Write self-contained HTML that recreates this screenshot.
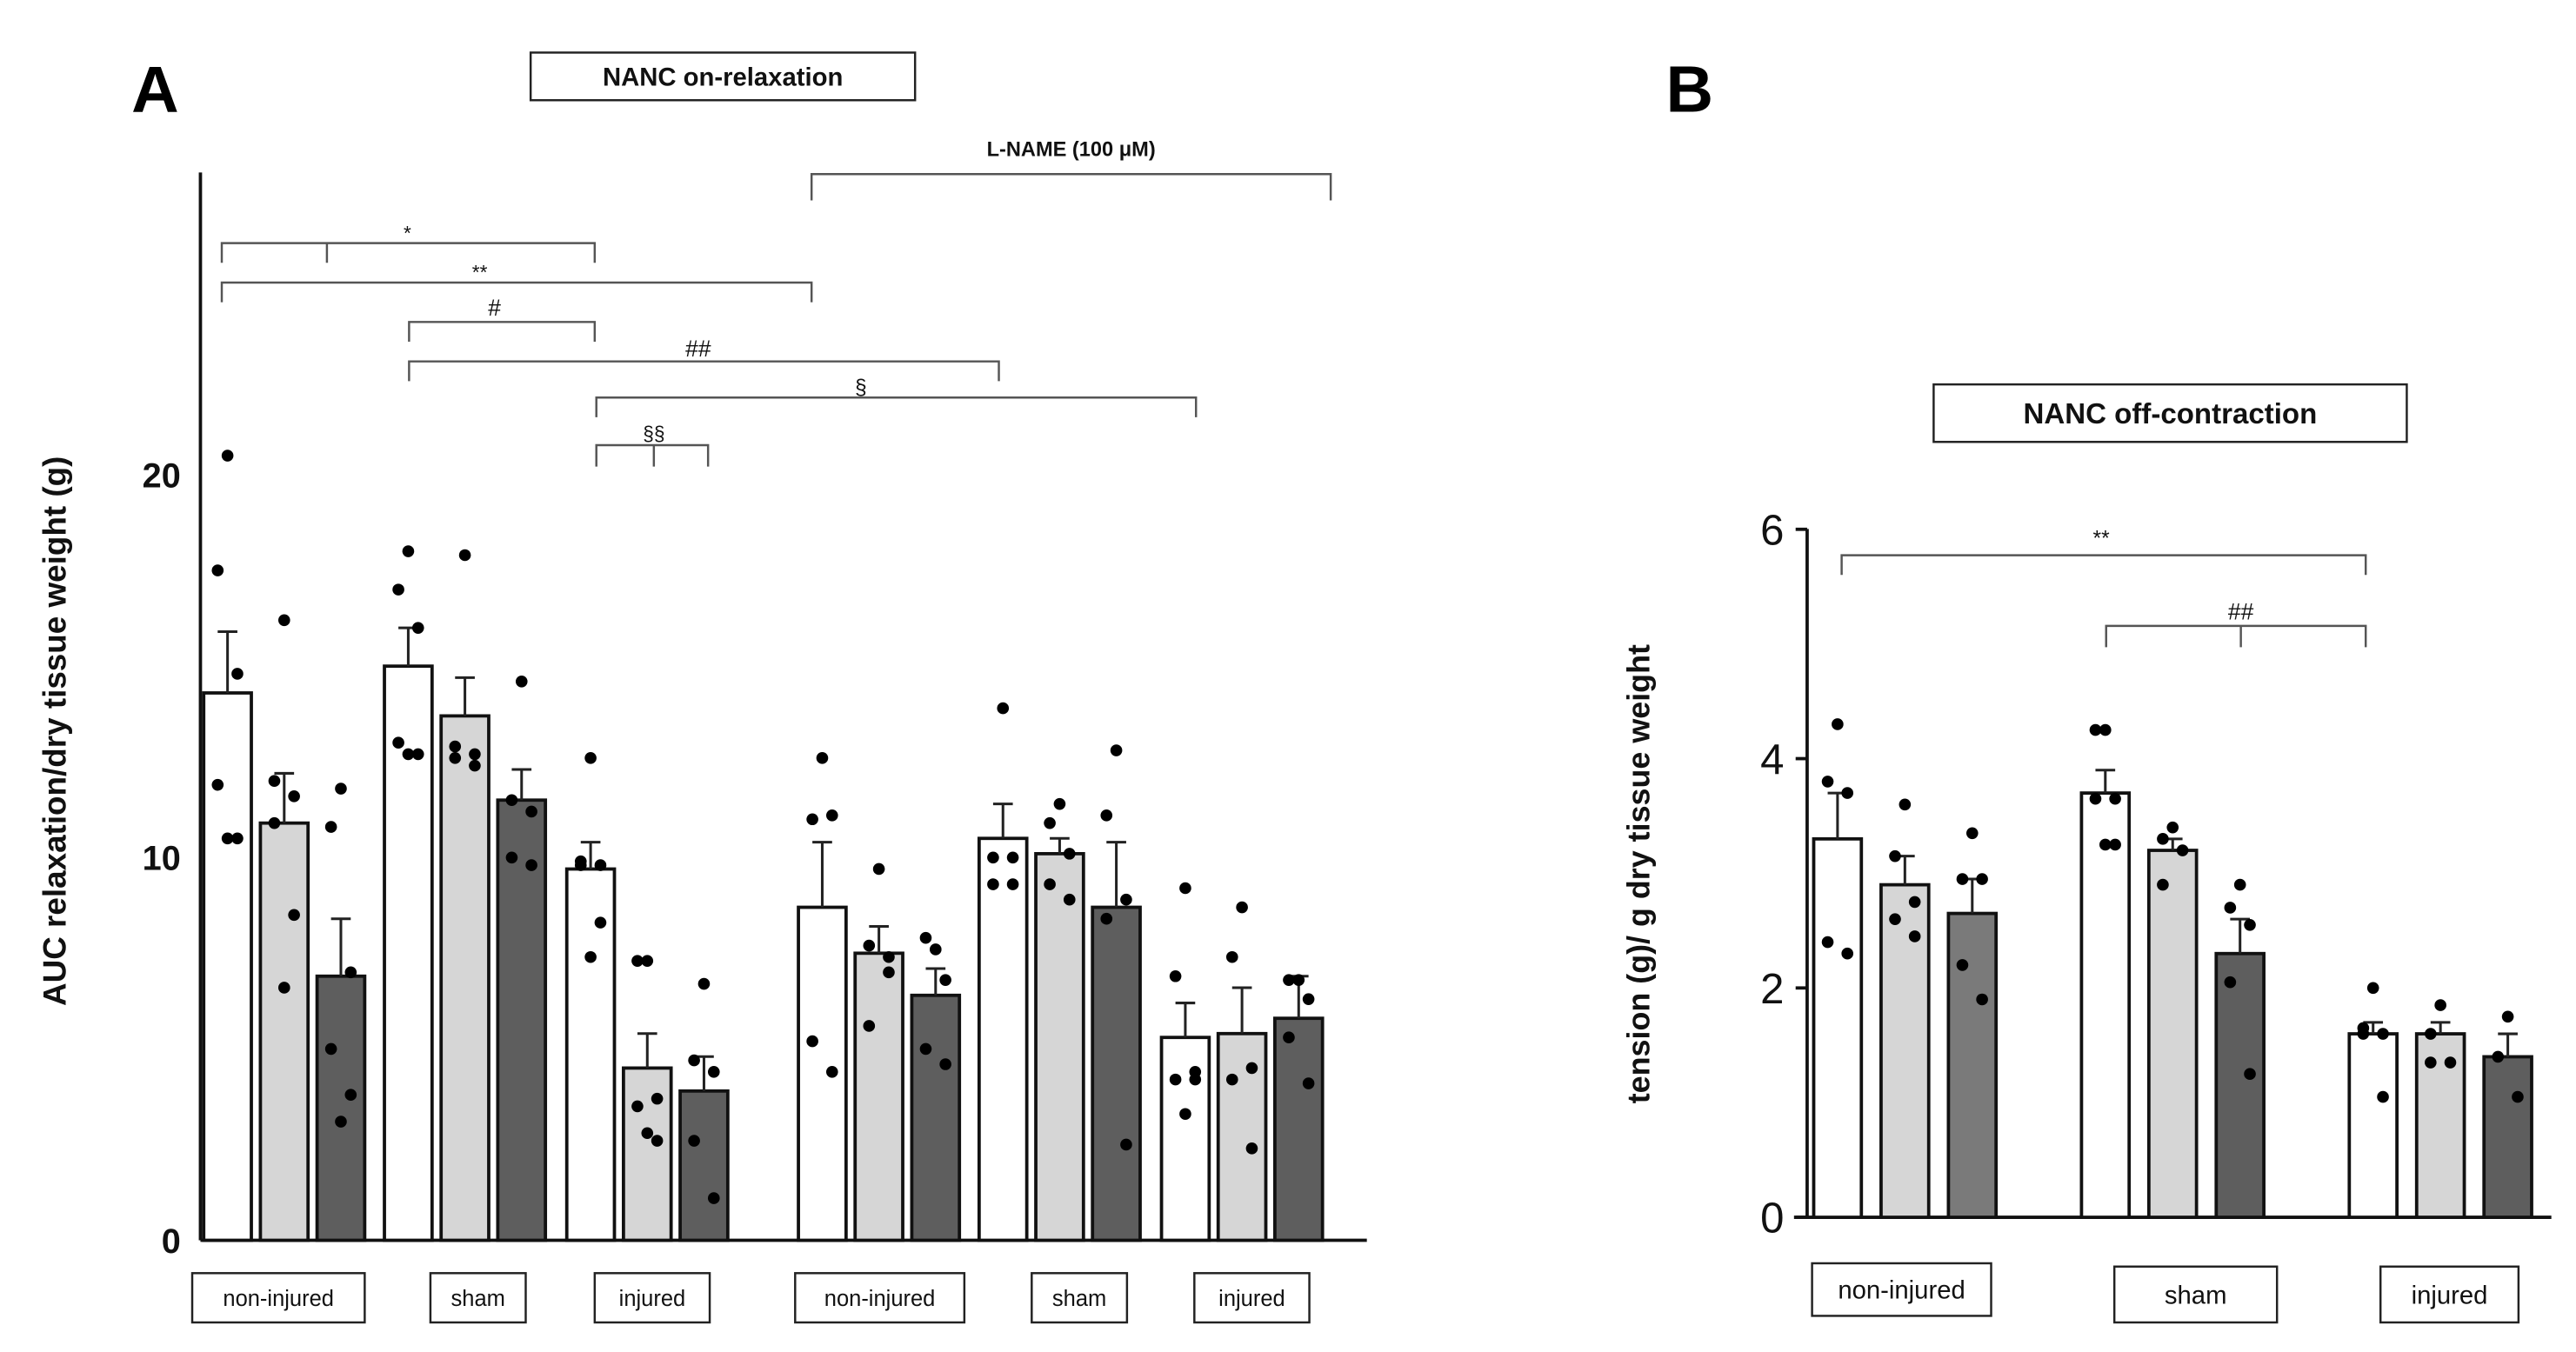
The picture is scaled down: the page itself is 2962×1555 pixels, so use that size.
<!DOCTYPE html>
<html><head><meta charset="utf-8"><style>
html,body{margin:0;padding:0;background:#fff;}
svg{display:block;}
text{font-family:"Liberation Sans",Arial,sans-serif;}
</style></head><body>
<svg id="fig" width="2962" height="1555" viewBox="0 0 1568 823" preserveAspectRatio="none" xmlns="http://www.w3.org/2000/svg">
<g id="panelA"></g>
<g id="panelB"></g>
</svg>
<script>
// ---- Panel A data ----
const aGroups = ["non-injured","sham","injured","non-injured","sham","injured"];
const aMeans = [[14.3,10.9,6.9],[15.0,13.7,11.5],[9.7,4.5,3.9],[8.7,7.5,6.4],[10.5,10.1,8.7],[5.3,5.4,5.8]];
const aErrTop = [[15.9,12.2,8.4],[16.0,14.7,12.3],[10.4,5.4,4.8],[10.4,8.2,7.1],[11.4,10.5,10.4],[6.2,6.6,6.9]];
const aPoints = [
 [[20.5,17.5,14.8,11.9,10.5,10.5],[16.2,12.0,11.6,10.9,8.5,6.6],[11.8,10.8,7.0,5.0,3.8,3.1]],
 [[18.0,17.0,16.0,13.0,12.7,12.7],[17.9,12.9,12.4,12.6,12.7],[14.6,11.5,11.2,10.0,9.8]],
 [[12.6,9.9,9.8,9.8,8.3,7.4],[7.3,7.3,3.7,3.5,2.6,2.8],[6.7,4.7,4.4,2.6,1.1]],
 [[12.6,11.0,11.1,5.2,4.4],[9.7,7.7,7.0,5.6,7.4],[7.6,7.9,6.8,5.0,4.6]],
 [[13.9,10.0,10.0,9.3,9.3],[11.4,10.9,10.1,9.3,8.9],[12.8,11.1,8.9,8.4,2.5]],
 [[9.2,6.9,4.4,4.2,4.2,3.3],[8.7,7.4,4.5,4.2,2.4],[6.8,6.8,6.3,5.3,4.1]]
];
const aTicks = [0,10,20];
// ---- Panel B data ----
const bGroups = ["non-injured","sham","injured"];
const bMeans = [[3.3,2.9,2.65],[3.7,3.2,2.3],[1.6,1.6,1.4]];
const bErrTop = [[3.7,3.15,2.95],[3.9,3.3,2.6],[1.7,1.7,1.6]];
const bPoints = [
 [[4.3,3.8,3.7,2.4,2.3],[3.6,3.15,2.75,2.6,2.45],[3.35,2.95,2.95,2.2,1.9]],
 [[4.25,4.25,3.65,3.65,3.25,3.25],[3.4,3.3,3.2,2.9],[2.9,2.7,2.55,2.05,1.25]],
 [[2.0,1.65,1.6,1.6,1.05],[1.85,1.6,1.35,1.35],[1.75,1.4,1.05]]
];
const bTicks = [0,2,4,6];

const NS="http://www.w3.org/2000/svg";
function mk(parent,tag,attrs,txt){const e=document.createElementNS(NS,tag);for(const k in attrs)e.setAttribute(k,attrs[k]);if(txt!==undefined)e.textContent=txt;parent.appendChild(e);return e;}
const fills=["#ffffff","#d6d6d6","#5e5e5e"];
const jit=[0,-6,6,-6,6,0,-3,3];

function drawPanel(g,cfg){
  const y=v=>cfg.y0-(v-0)*cfg.pxPer;
  let ax=mk(g,'line',{x1:cfg.axX,y1:cfg.axTop,x2:cfg.axX,y2:cfg.y0,stroke:'#111','stroke-width':2});
  
  let bx=mk(g,'line',{x1:cfg.axX-(cfg.xExt||0),y1:cfg.y0,x2:cfg.axRight,y2:cfg.y0,stroke:'#111','stroke-width':2});
  
  cfg.ticks.forEach(t=>{
    if(cfg.tickLen){const tl=mk(g,'line',{x1:cfg.axX-cfg.tickLen,y1:y(t),x2:cfg.axX,y2:y(t),stroke:'#111','stroke-width':2});}
    const tx=mk(g,'text',{x:cfg.axX-cfg.tickGap,y:y(t)+cfg.tickFont*0.36,'text-anchor':'end','font-size':cfg.tickFont,'font-weight':cfg.tickBold?'bold':'normal',fill:'#111'},String(t));
    
  });
  cfg.means.forEach((grp,gi)=>{
    grp.forEach((m,bi)=>{
      const x0=cfg.groupX[gi]+bi*cfg.barStep, w=cfg.barW, cx=x0+w/2;
      const r=mk(g,'rect',{x:x0,y:y(m),width:w,height:y(0)-y(m),fill:(cfg.fills||fills)[gi===0&&cfg.firstDark&&bi===2?3:bi],stroke:'#111','stroke-width':2});
      
      const et=cfg.err[gi][bi];
      const e1=mk(g,'line',{x1:cx,y1:y(m),x2:cx,y2:y(et),stroke:'#222','stroke-width':1.6});
      
      const e2=mk(g,'line',{x1:cx-6,y1:y(et),x2:cx+6,y2:y(et),stroke:'#222','stroke-width':1.6});
      
      cfg.points[gi][bi].forEach((p,pi)=>{
        const c=mk(g,'circle',{cx:cx+jit[pi%jit.length],cy:y(p),r:3.6,fill:'#000'});
        
      });
    });
  });
  return y;
}
function bracket(g,name,x1,x2,yl,drop,mid,label,lx,ly,fs,bold){
  const p=mk(g,'path',{d:`M${x1},${yl+drop}V${yl}H${x2}V${yl+drop}`+(mid!=null?`M${mid},${yl}V${yl+drop}`:''),fill:'none',stroke:'#555','stroke-width':1.3});
  
  const t=mk(g,'text',{x:lx,y:ly,'text-anchor':'middle','font-size':fs,'font-weight':bold?'bold':'normal',fill:'#111'},label);
  
}
function box(g,name,x,y,w,h,txt,fs,bold){
  const r=mk(g,'rect',{x:x,y:y,width:w,height:h,fill:'#fff',stroke:'#222','stroke-width':1.3});
  
  const t=mk(g,'text',{x:x+w/2,y:y+h/2+fs*0.36,'text-anchor':'middle','font-size':fs,'font-weight':bold?'bold':'normal',fill:'#111'},txt);
  
}

// Panel A
const gA=document.getElementById('panelA');
const yA=drawPanel(gA,{y0:755,pxPer:23.3,axX:122,axTop:105,axRight:832,ticks:aTicks,tickFont:21,tickBold:true,tickGap:12,
  means:aMeans,err:aErrTop,points:aPoints,groups:aGroups,groupX:[124,234,345,486,596,707],barW:29,barStep:34.5});
let tA=mk(gA,'text',{x:80,y:68,'font-size':40,'font-weight':'bold',fill:'#000'},'A');

box(gA,'panel-a-title',323,32,234,29,'NANC on-relaxation',15.5,true);
let yt=mk(gA,'text',{x:0,y:0,transform:'translate(40,445) rotate(-90)','text-anchor':'middle','font-size':19.5,'font-weight':'bold',fill:'#111'},'AUC relaxation/dry tissue weight (g)');

bracket(gA,'sig-star',135,362,148,12,199,'*',248,146,12,false);
bracket(gA,'sig-2star',135,494,172,12,null,'**',292,170,12,false);
bracket(gA,'sig-hash',249,362,196,12,null,'#',301,192,14,false);
bracket(gA,'sig-2hash',249,608,220,12,null,'##',425,217,14,false);
bracket(gA,'sig-section',363,728,242,12,null,'§',524,240,13,false);
bracket(gA,'sig-2section',363,431,271,13,398,'§§',398,268,12,false);
bracket(gA,'l-name-bracket',494,810,106,16,null,'L-NAME (100 μM)',652,95,12.5,true);
[[117,105,'non-injured'],[262,58,'sham'],[362,70,'injured'],[484,103,'non-injured'],[628,58,'sham'],[727,70,'injured']].forEach(b=>box(gA,'x-label-'+b[2],b[0],775,b[1],30,b[2],13.5,false));

// Panel B
const gB=document.getElementById('panelB');
const yB=drawPanel(gB,{y0:741,pxPer:69.8,axX:1100,axTop:322,axRight:1553,xExt:8,ticks:bTicks,tickFont:26,tickBold:false,tickGap:14,tickLen:7,
  means:bMeans,err:bErrTop,points:bPoints,groups:bGroups,groupX:[1104,1267,1430],barW:29,barStep:41,
  fills:["#ffffff","#d6d6d6","#5e5e5e","#7a7a7a"],firstDark:true});
let tB=mk(gB,'text',{x:1014,y:68,'font-size':40,'font-weight':'bold',fill:'#000'},'B');

box(gB,'panel-b-title',1177,234,288,35,'NANC off-contraction',17.5,true);
let yt2=mk(gB,'text',{x:0,y:0,transform:'translate(1004,532) rotate(-90)','text-anchor':'middle','font-size':19,'font-weight':'bold',fill:'#111'},'tension (g)/ g dry tissue weight');

bracket(gB,'sig-2star-b',1121,1440,338,12,null,'**',1279,332,13,false);
bracket(gB,'sig-2hash-b',1282,1440,381,13,1364,'##',1364,377,14,false);
[[1103,769,109,32,'non-injured'],[1287,771,99,34,'sham'],[1449,771,84,34,'injured']].forEach(b=>box(gB,'x-label-b-'+b[4],b[0],b[1],b[2],b[3],b[4],15.5,false));
</script>
</body></html>
